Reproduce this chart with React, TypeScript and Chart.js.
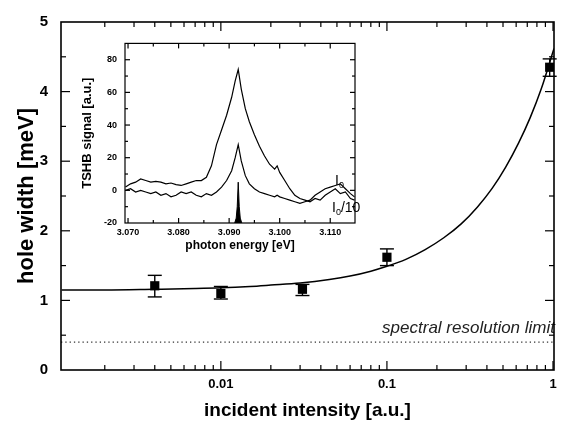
import React, { useEffect, useRef } from "react";
import { Chart, registerables } from "chart.js";

Chart.register(...registerables);

const FONT = "'Liberation Sans', Arial, Helvetica, sans-serif";

// ---------- main chart data ----------
const intensity = [0.004, 0.01, 0.031, 0.1, 0.955];
const holeWidth = [1.21, 1.1, 1.16, 1.62, 4.35];
const errLow = [1.05, 1.02, 1.07, 1.5, 4.22];
const errHigh = [1.36, 1.2, 1.23, 1.74, 4.47];

const fitIntensity = [0.0011, 0.002, 0.004, 0.007, 0.01, 0.015, 0.02, 0.03, 0.045, 0.06, 0.08, 0.1, 0.13, 0.17, 0.22, 0.28, 0.35, 0.43, 0.52, 0.62, 0.73, 0.85, 1.014];
const fitWidth = [1.15, 1.15, 1.16, 1.17, 1.18, 1.2, 1.22, 1.25, 1.3, 1.35, 1.42, 1.49, 1.59, 1.73, 1.9, 2.1, 2.34, 2.61, 2.92, 3.26, 3.63, 4.04, 4.62];

const resolutionLimit = 0.4;
const resolutionRange = [0.00109, 1.014];
const resolutionLabel = "spectral resolution limit";

const xTickValues = [0.01, 0.1, 1];
const xTickLabels = ["0.01", "0.1", "1"];
const yTickValues = [0, 1, 2, 3, 4, 5];
const yTickLabels = ["0", "1", "2", "3", "4", "5"];
const xTitle = "incident intensity [a.u.]";
const yTitle = "hole width [meV]";

// ---------- inset data ----------
const energy = [3.0695, 3.0705, 3.0715, 3.0725, 3.0735, 3.0745, 3.0755, 3.0765, 3.0775, 3.0785, 3.0795, 3.0805, 3.0815, 3.0825, 3.0835, 3.0845, 3.0855, 3.0865, 3.0875, 3.0885, 3.0895, 3.0905, 3.0912, 3.0918, 3.0924, 3.0932, 3.094, 3.095, 3.096, 3.097, 3.098, 3.099, 3.0995, 3.1, 3.101, 3.102, 3.103, 3.104, 3.105, 3.106, 3.107, 3.108, 3.109, 3.11, 3.111, 3.112, 3.113, 3.114, 3.1148];
const signalBroad = [2, 4, 5, 7, 6, 5, 5.5, 5, 4, 4.5, 3.5, 3, 4, 5, 6, 6, 8, 15, 28, 37, 46, 57, 67, 74, 62, 50, 42, 34, 27, 21, 16, 13, 15, 11, 6, 1, -3, -5, -6, -7, -5, -6, -3, -1, 1, -2, -1, -5, -6];
const signalNarrow = [0, 1, -1, 0, -1, -2, -1, -3, -2, -4, -3, -1, -2, -1, -3, -4, -2, -3, -1, 2, 6, 12, 20, 28, 18, 9, 4, 1, -1, -2, -3, -4, -3, -4, -5, -6, -7, -8, -7, -6, -3, -1, 1, 2, 3, 4, 1, -2, -4];
const laserEnergy = [3.0911, 3.0914, 3.0916, 3.0918, 3.092, 3.0922, 3.0925];
const laserSignal = [-20, -17, -10, 5, -10, -17, -20];

const insetXTickValues = [3.07, 3.08, 3.09, 3.1, 3.11];
const insetXTickLabels = ["3.070", "3.080", "3.090", "3.100", "3.110"];
const insetYTickValues = [-20, 0, 20, 40, 60, 80];
const insetYTickLabels = ["-20", "0", "20", "40", "60", "80"];
const insetXTitle = "photon energy [eV]";
const insetYTitle = "TSHB signal [a.u.]";
const labelI0 = "I";
const labelSub = "0";
const labelDiv = "/10";

const near = (a: number, b: number) => Math.abs(a - b) < 1e-6;

function seg(ctx: CanvasRenderingContext2D, x1: number, y1: number, x2: number, y2: number) {
  ctx.beginPath();
  ctx.moveTo(x1, y1);
  ctx.lineTo(x2, y2);
  ctx.stroke();
}

const mainPlugin = {
  id: "mainDecor",
  afterDatasetsDraw(chart: any) {
    const { ctx, chartArea: a } = chart;
    const x = chart.scales.x;
    const y = chart.scales.y;
    ctx.save();
    ctx.strokeStyle = "#000";
    ctx.fillStyle = "#000";
    // error bars
    ctx.lineWidth = 1.4;
    intensity.forEach((v, i) => {
      const px = x.getPixelForValue(v);
      const lo = y.getPixelForValue(errLow[i]);
      const hi = y.getPixelForValue(errHigh[i]);
      seg(ctx, px, lo, px, hi);
      seg(ctx, px - 7, lo, px + 7, lo);
      seg(ctx, px - 7, hi, px + 7, hi);
    });
    // resolution label
    ctx.font = `italic 17px ${FONT}`;
    ctx.fillStyle = "#222";
    ctx.textAlign = "right";
    ctx.textBaseline = "alphabetic";
    ctx.fillText(resolutionLabel, a.right + 1, y.getPixelForValue(resolutionLimit) - 9);
    // frame
    ctx.lineWidth = 1.6;
    ctx.strokeRect(a.left, a.top, a.right - a.left, a.bottom - a.top);
    // x ticks (inward, top and bottom)
    ctx.lineWidth = 1.2;
    x.ticks.forEach((t: any) => {
      const v = t.value;
      const e = Math.floor(Math.log10(v) + 1e-9);
      const s = v / Math.pow(10, e);
      if (Math.abs(s - Math.round(s)) > 1e-6) return;
      const px = x.getPixelForValue(v);
      if (px < a.left + 1 || px > a.right + 0.5) return;
      const len = Math.round(s) === 1 ? 9 : 5;
      seg(ctx, px, a.bottom, px, a.bottom - len);
      seg(ctx, px, a.top, px, a.top + len);
    });
    // y ticks (inward, left and right)
    y.ticks.forEach((t: any) => {
      const v = t.value;
      const py = y.getPixelForValue(v);
      if (py > a.bottom - 1 || py < a.top + 1) return;
      const len = near(v, Math.round(v)) ? 9 : 5;
      seg(ctx, a.left, py, a.left + len, py);
      seg(ctx, a.right, py, a.right - len, py);
    });
    // titles
    ctx.fillStyle = "#000";
    ctx.textAlign = "center";
    ctx.textBaseline = "middle";
    ctx.font = `bold 19px ${FONT}`;
    ctx.fillText(xTitle, (a.left + a.right) / 2, 411);
    ctx.save();
    ctx.translate(27, (a.top + a.bottom) / 2);
    ctx.rotate(-Math.PI / 2);
    ctx.font = `bold 22px ${FONT}`;
    ctx.fillText(yTitle, 0, 0);
    ctx.restore();
    ctx.restore();
  },
};

const insetPlugin = {
  id: "insetDecor",
  afterDatasetsDraw(chart: any) {
    const { ctx, chartArea: a } = chart;
    const x = chart.scales.x;
    const y = chart.scales.y;
    ctx.save();
    ctx.strokeStyle = "#000";
    ctx.fillStyle = "#000";
    ctx.lineWidth = 1.2;
    ctx.strokeRect(a.left, a.top, a.right - a.left, a.bottom - a.top);
    x.ticks.forEach((t: any) => {
      const px = x.getPixelForValue(t.value);
      if (px < a.left + 1 || px > a.right - 1) return;
      const major = insetXTickValues.some((v) => near(v, t.value));
      const len = major ? 5 : 3;
      seg(ctx, px, a.bottom, px, a.bottom - len);
      seg(ctx, px, a.top, px, a.top + len);
    });
    y.ticks.forEach((t: any) => {
      const py = y.getPixelForValue(t.value);
      if (py > a.bottom - 1 || py < a.top + 1) return;
      const major = insetYTickValues.some((v) => near(v, t.value));
      const len = major ? 5 : 3;
      seg(ctx, a.left, py, a.left + len, py);
      seg(ctx, a.right, py, a.right - len, py);
    });
    // titles
    ctx.textAlign = "center";
    ctx.textBaseline = "middle";
    ctx.font = `bold 12px ${FONT}`;
    ctx.fillText(insetXTitle, (a.left + a.right) / 2, 216);
    ctx.save();
    ctx.translate(17, (a.top + a.bottom) / 2);
    ctx.rotate(-Math.PI / 2);
    ctx.font = `bold 13px ${FONT}`;
    ctx.fillText(insetYTitle, 0, 0);
    ctx.restore();
    // trace labels
    ctx.textAlign = "left";
    ctx.textBaseline = "alphabetic";
    const drawLabel = (lx: number, ly: number, tail: string) => {
      ctx.font = `14px ${FONT}`;
      ctx.fillText(labelI0, lx, ly);
      const w = ctx.measureText(labelI0).width;
      ctx.font = `9px ${FONT}`;
      ctx.fillText(labelSub, lx + w, ly + 3);
      const w2 = ctx.measureText(labelSub).width;
      if (tail) {
        ctx.font = `14px ${FONT}`;
        ctx.fillText(tail, lx + w + w2, ly);
      }
    };
    drawLabel(265, 155, "");
    drawLabel(262, 182, labelDiv);
    ctx.restore();
  },
};

export default function App() {
  const mainRef = useRef<HTMLCanvasElement>(null);
  const insetRef = useRef<HTMLCanvasElement>(null);

  useEffect(() => {
    const main = new Chart(mainRef.current!, {
      type: "scatter",
      data: {
        datasets: [
          {
            type: "line",
            data: resolutionRange.map((v) => ({ x: v, y: resolutionLimit })),
            borderColor: "#333",
            borderWidth: 1.2,
            borderDash: [1.3, 3],
            pointRadius: 0,
            fill: false,
            order: 3,
          },
          {
            type: "line",
            data: fitIntensity.map((v, i) => ({ x: v, y: fitWidth[i] })),
            borderColor: "#000",
            borderWidth: 1.5,
            pointRadius: 0,
            cubicInterpolationMode: "monotone",
            fill: false,
            order: 2,
          },
          {
            type: "scatter",
            data: intensity.map((v, i) => ({ x: v, y: holeWidth[i] })),
            pointStyle: "rect",
            pointRadius: 6.5,
            backgroundColor: "#000",
            borderColor: "#000",
            borderWidth: 0,
            order: 1,
          },
        ],
      },
      options: {
        responsive: false,
        animation: false,
        devicePixelRatio: 1,
        layout: { padding: { top: 16, right: 3, left: 0, bottom: 0 } },
        plugins: { legend: { display: false }, tooltip: { enabled: false } },
        scales: {
          x: {
            type: "logarithmic",
            min: 0.00109,
            max: 1.014,
            grid: { display: false, drawTicks: false },
            border: { display: false },
            afterFit: (s: any) => {
              s.height = 52;
            },
            ticks: {
              autoSkip: false,
              maxRotation: 0,
              padding: 7,
              color: "#000",
              font: { family: FONT, size: 13, weight: "bold" },
              callback: (val: any) => {
                const idx = xTickValues.findIndex((v) => near(v, Number(val)));
                return idx >= 0 ? xTickLabels[idx] : "";
              },
            },
          },
          y: {
            type: "linear",
            min: 0,
            max: 5,
            grid: { display: false, drawTicks: false },
            border: { display: false },
            afterFit: (s: any) => {
              s.width = 61;
            },
            ticks: {
              stepSize: 0.5,
              maxTicksLimit: 20,
              autoSkip: false,
              padding: 13,
              color: "#000",
              font: { family: FONT, size: 15, weight: "bold" },
              callback: (val: any) => {
                const idx = yTickValues.findIndex((v) => near(v, Number(val)));
                return idx >= 0 ? yTickLabels[idx] : "";
              },
            },
          },
        },
      },
      plugins: [mainPlugin],
    } as any);

    const inset = new Chart(insetRef.current!, {
      type: "line",
      data: {
        datasets: [
          {
            data: laserEnergy.map((v, i) => ({ x: v, y: laserSignal[i] })),
            borderColor: "#000",
            backgroundColor: "#000",
            borderWidth: 1,
            pointRadius: 0,
            fill: "start",
          },
          {
            data: energy.map((v, i) => ({ x: v, y: signalBroad[i] })),
            borderColor: "#000",
            borderWidth: 1.2,
            pointRadius: 0,
            fill: false,
          },
          {
            data: energy.map((v, i) => ({ x: v, y: signalNarrow[i] })),
            borderColor: "#000",
            borderWidth: 1.2,
            pointRadius: 0,
            fill: false,
          },
        ],
      },
      options: {
        responsive: false,
        animation: false,
        devicePixelRatio: 1,
        layout: { padding: { top: 10, right: 10, left: 0, bottom: 0 } },
        plugins: { legend: { display: false }, tooltip: { enabled: false } },
        scales: {
          x: {
            type: "linear",
            min: 3.0694,
            max: 3.1149,
            grid: { display: false, drawTicks: false },
            border: { display: false },
            afterFit: (s: any) => {
              s.height = 32;
            },
            ticks: {
              stepSize: 0.005,
              includeBounds: false,
              autoSkip: false,
              maxRotation: 0,
              maxTicksLimit: 20,
              padding: 4,
              color: "#000",
              font: { family: FONT, size: 9, weight: "bold" },
              callback: (val: any) => {
                const idx = insetXTickValues.findIndex((v) => near(v, Number(val)));
                return idx >= 0 ? insetXTickLabels[idx] : "";
              },
            },
          },
          y: {
            type: "linear",
            min: -20,
            max: 90,
            grid: { display: false, drawTicks: false },
            border: { display: false },
            afterFit: (s: any) => {
              s.width = 55;
            },
            ticks: {
              stepSize: 10,
              includeBounds: false,
              autoSkip: false,
              maxTicksLimit: 20,
              padding: 8,
              color: "#000",
              font: { family: FONT, size: 9, weight: "bold" },
              callback: (val: any) => {
                const idx = insetYTickValues.findIndex((v) => near(v, Number(val)));
                return idx >= 0 ? insetYTickLabels[idx] : "";
              },
            },
          },
        },
      },
      plugins: [insetPlugin],
    } as any);

    return () => {
      main.destroy();
      inset.destroy();
    };
  }, []);

  return (
    <div style={{ position: "absolute", left: 0, top: 0, width: 561, height: 422, background: "#fff" }}>
      <canvas ref={mainRef} width={561} height={422} style={{ position: "absolute", left: 0, top: 0 }} />
      <canvas ref={insetRef} width={295} height={225} style={{ position: "absolute", left: 70, top: 30 }} />
    </div>
  );
}
